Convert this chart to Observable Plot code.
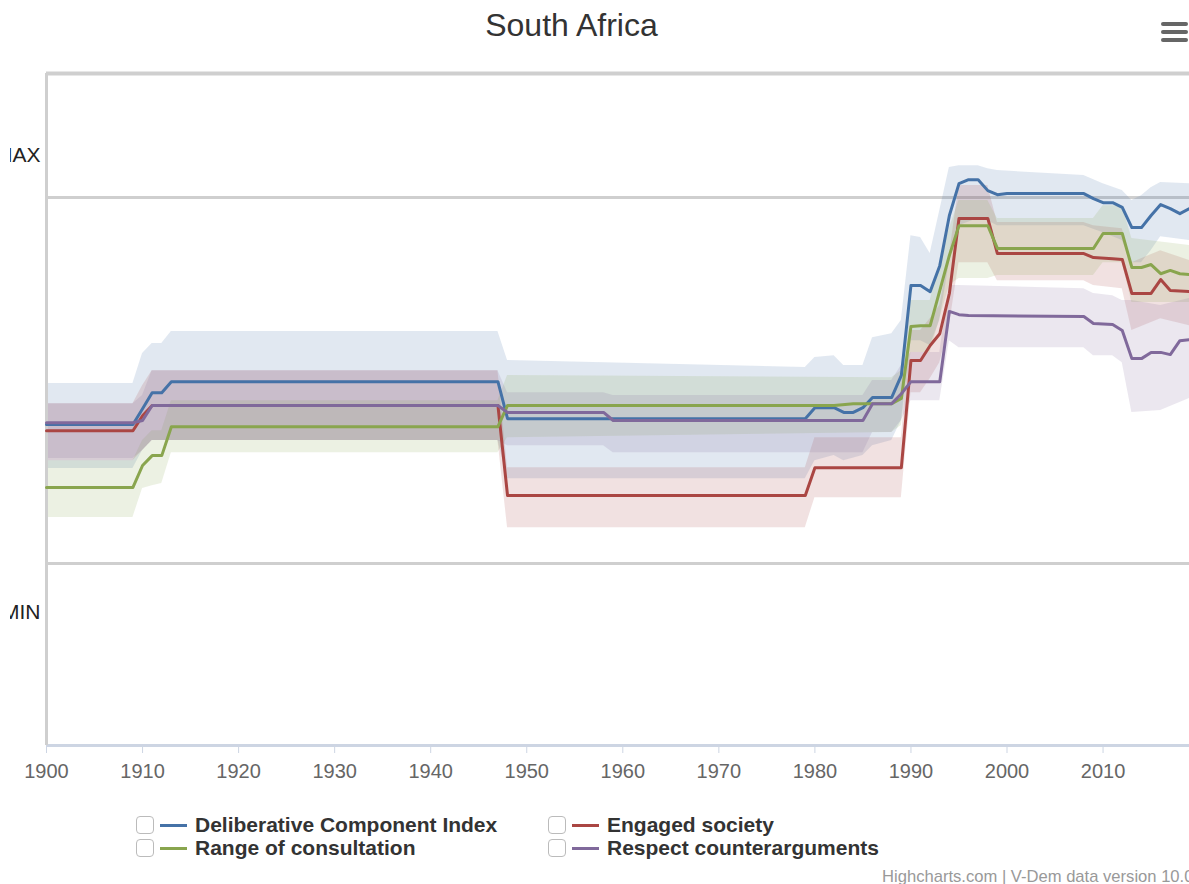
<!DOCTYPE html>
<html>
<head>
<meta charset="utf-8">
<script src="https://cdn.jsdelivr.net/npm/d3@7"></script>
<script src="https://cdn.jsdelivr.net/npm/@observablehq/plot@0.6"></script>
<style>
  body { margin: 0; background: #fff; font-family: "Liberation Sans", Arial, sans-serif; }
  #chart { position: relative; width: 1189px; height: 884px; overflow: hidden; }
  /* the view starts just inside the axis-label column, so the first letters of MAX / MIN fall outside it */
  #plot { position: absolute; left: 0; top: 0; clip-path: inset(0 0 0 10px); }
  #title { position: absolute; left: 0; top: 9px; width: 1143px; text-align: center; font-size: 32px; line-height: 1; color: #333; }
  #menu { position: absolute; left: 1161px; top: 22px; width: 27px; }
  #menu span { display: block; height: 4px; border-radius: 2px; background: #666; margin-bottom: 4px; }
  #legend { position: absolute; left: 136px; top: 814px; display: grid; grid-template-columns: 412px auto; row-gap: 1px; }
  .item { display: flex; align-items: center; height: 22px; font-weight: bold; font-size: 21px; color: #333; white-space: nowrap; }
  .box { width: 18px; height: 18px; border: 1.5px solid #bbb; border-radius: 4px; box-sizing: border-box; margin-right: 6px; }
  .swatch { width: 27px; height: 3px; margin-right: 8px; }
  #credit { position: absolute; left: 882px; top: 867px; font-size: 16.6px; color: #999; white-space: nowrap; }
</style>
</head>
<body>
<div id="chart">
  <div id="plot"></div>
  <div id="title">South Africa</div>
  <div id="menu"><span></span><span></span><span></span></div>
  <div id="legend"></div>
  <div id="credit">Highcharts.com | V-Dem data version 10.0</div>
</div>
<script>
// Scores are normalised so that MIN = 0 and MAX = 1.
// Each line lists its turning points as [year, score]; the series stays flat between them.
const dciLine = [[1900,0.380],[1909,0.380],[1910,0.423],[1911,0.467],[1912,0.467],[1913,0.497],[1947,0.497],[1948,0.396],[1979,0.396],[1980,0.426],[1982,0.426],[1983,0.413],[1984,0.413],[1985,0.426],[1986,0.454],[1988,0.454],[1989,0.514],[1990,0.760],[1991,0.760],[1992,0.743],[1993,0.814],[1994,0.951],[1995,1.038],[1996,1.049],[1997,1.049],[1998,1.019],[1999,1.008],[2000,1.011],[2008,1.011],[2009,0.997],[2010,0.986],[2011,0.986],[2012,0.973],[2013,0.918],[2014,0.918],[2015,0.951],[2016,0.981],[2017,0.970],[2018,0.956],[2019,0.970]];
const engagedLine = [[1900,0.363],[1909,0.363],[1910,0.404],[1911,0.432],[1947,0.432],[1948,0.186],[1979,0.186],[1980,0.262],[1989,0.262],[1990,0.555],[1991,0.555],[1992,0.596],[1993,0.628],[1994,0.738],[1995,0.943],[1998,0.943],[1999,0.847],[2008,0.847],[2009,0.836],[2011,0.833],[2012,0.831],[2013,0.738],[2015,0.738],[2016,0.776],[2017,0.746],[2019,0.743]];
const consultLine = [[1900,0.208],[1909,0.208],[1910,0.268],[1911,0.295],[1912,0.295],[1913,0.374],[1947,0.374],[1948,0.432],[1982,0.432],[1984,0.437],[1988,0.437],[1989,0.451],[1990,0.648],[1991,0.650],[1992,0.650],[1993,0.746],[1994,0.842],[1995,0.923],[1998,0.923],[1999,0.861],[2009,0.861],[2010,0.902],[2012,0.902],[2013,0.809],[2014,0.809],[2015,0.817],[2016,0.792],[2017,0.801],[2018,0.792],[2019,0.790]];
const respectLine = [[1900,0.385],[1909,0.385],[1910,0.391],[1911,0.432],[1947,0.432],[1948,0.413],[1958,0.413],[1959,0.391],[1985,0.391],[1986,0.437],[1988,0.437],[1989,0.464],[1990,0.497],[1993,0.497],[1994,0.689],[1995,0.680],[1996,0.678],[2008,0.675],[2009,0.656],[2011,0.653],[2012,0.637],[2013,0.560],[2014,0.560],[2015,0.577],[2016,0.577],[2017,0.571],[2018,0.609],[2019,0.612]];

// Confidence bands as [year, low, high].
const dciBand = [[1900,0.260,0.492],[1909,0.260,0.492],[1910,0.309,0.574],[1911,0.336,0.601],[1912,0.336,0.601],[1913,0.336,0.634],[1947,0.336,0.634],[1948,0.232,0.555],[1979,0.232,0.536],[1980,0.281,0.563],[1982,0.295,0.568],[1983,0.281,0.541],[1985,0.295,0.541],[1986,0.322,0.617],[1988,0.336,0.628],[1989,0.391,0.664],[1990,0.609,0.896],[1991,0.609,0.891],[1992,0.596,0.847],[1993,0.664,0.964],[1994,0.822,1.082],[1995,0.923,1.087],[1997,0.943,1.087],[1998,0.937,1.079],[1999,0.923,1.074],[2008,0.923,1.060],[2010,0.904,1.038],[2012,0.883,1.019],[2013,0.822,0.992],[2014,0.822,1.005],[2015,0.855,1.027],[2016,0.893,1.041],[2019,0.883,1.038]];
const engagedBand = [[1900,0.281,0.437],[1909,0.281,0.437],[1910,0.309,0.486],[1911,0.336,0.527],[1947,0.336,0.527],[1948,0.098,0.262],[1979,0.098,0.262],[1980,0.180,0.344],[1989,0.180,0.344],[1990,0.467,0.637],[1991,0.467,0.637],[1992,0.505,0.669],[1993,0.549,0.705],[1994,0.650,0.842],[1995,0.822,1.033],[1998,0.822,1.033],[1999,0.773,0.932],[2008,0.773,0.932],[2009,0.760,0.923],[2012,0.751,0.915],[2013,0.637,0.822],[2016,0.669,0.855],[2019,0.650,0.828]];
const consultBand = [[1900,0.126,0.281],[1909,0.126,0.281],[1910,0.205,0.336],[1911,0.213,0.363],[1912,0.219,0.363],[1913,0.303,0.445],[1947,0.303,0.445],[1948,0.344,0.514],[1988,0.358,0.508],[1989,0.377,0.527],[1990,0.577,0.719],[1992,0.577,0.719],[1993,0.669,0.822],[1994,0.760,0.915],[1995,0.779,0.992],[1998,0.779,0.992],[1999,0.787,0.943],[2009,0.787,0.943],[2010,0.822,0.978],[2012,0.822,0.978],[2013,0.713,0.888],[2019,0.713,0.869]];
const respectBand = [[1900,0.287,0.437],[1909,0.287,0.437],[1910,0.309,0.459],[1911,0.336,0.527],[1947,0.336,0.527],[1948,0.322,0.467],[1958,0.322,0.467],[1959,0.303,0.459],[1985,0.303,0.459],[1986,0.358,0.500],[1988,0.358,0.500],[1989,0.391,0.541],[1990,0.445,0.577],[1993,0.445,0.577],[1994,0.609,0.760],[1995,0.590,0.760],[2008,0.590,0.751],[2009,0.568,0.738],[2011,0.568,0.732],[2012,0.549,0.719],[2013,0.413,0.719],[2016,0.418,0.705],[2019,0.451,0.724]];

const seriesNames = ["Deliberative Component Index", "Engaged society", "Range of consultation", "Respect counterarguments"];
const seriesColors = ["#4572A7", "#AA4643", "#89A54E", "#80699B"];
const seriesLines = [dciLine, engagedLine, consultLine, respectLine];
const seriesBands = [dciBand, engagedBand, consultBand, respectBand];

const xTicks = [1900, 1910, 1920, 1930, 1940, 1950, 1960, 1970, 1980, 1990, 2000, 2010];
const yGridLines = [0, 1];                                  // MIN and MAX reference lines
const yLabels = [{text: "MAX", at: 1.115}, {text: "MIN", at: -0.134}];
const xDomain = [1900, 2019];
const yDomain = [-0.497, 1.339];

const font = '"Liberation Sans", Arial, sans-serif';

const chart = Plot.plot({
  width: 1189,
  height: 800,
  marginLeft: 46,
  marginRight: 0,
  marginTop: 73,
  marginBottom: 55,
  style: {fontFamily: font, background: "transparent", overflow: "hidden"},
  x: {domain: xDomain},
  y: {domain: yDomain},
  marks: [
    Plot.ruleY(yGridLines, {stroke: "#cfcfcf", strokeWidth: 3}),
    ...seriesBands.map((band, i) => Plot.areaY(band, {
      x: d => d[0], y1: d => d[1], y2: d => d[2],
      fill: seriesColors[i], fillOpacity: 0.16
    })),
    Plot.ruleY([yDomain[1]], {stroke: "#cfcfcf", strokeWidth: 4}),
    Plot.ruleY([yDomain[0]], {stroke: "#cdd5e3", strokeWidth: 3}),
    Plot.ruleX([xDomain[0]], {stroke: "#cfcfcf", strokeWidth: 3}),
    Plot.axisX(xTicks, {
      tickFormat: d => String(d), tickSize: 8, tickPadding: 10,
      fontSize: 20, stroke: "#cdd5e3", fill: "#666"
    }),
    Plot.axisY(yLabels.map(d => d.at), {
      tickFormat: v => yLabels.find(d => d.at === v).text,
      tickSize: 0, tickPadding: 6, fontSize: 21, fill: "#222"
    }),
    ...seriesLines.map((line, i) => Plot.line(line, {
      x: d => d[0], y: d => d[1],
      stroke: seriesColors[i], strokeWidth: 3, strokeLinejoin: "round"
    }))
  ]
});
document.getElementById("plot").append(chart);

// Legend: two items per row, in series order.
const legend = document.getElementById("legend");
seriesNames.forEach((name, i) => {
  const item = document.createElement("div");
  item.className = "item";
  item.innerHTML = `<span class="box"></span><span class="swatch" style="background:${seriesColors[i]}"></span><span>${name}</span>`;
  legend.append(item);
});
</script>
</body>
</html>
